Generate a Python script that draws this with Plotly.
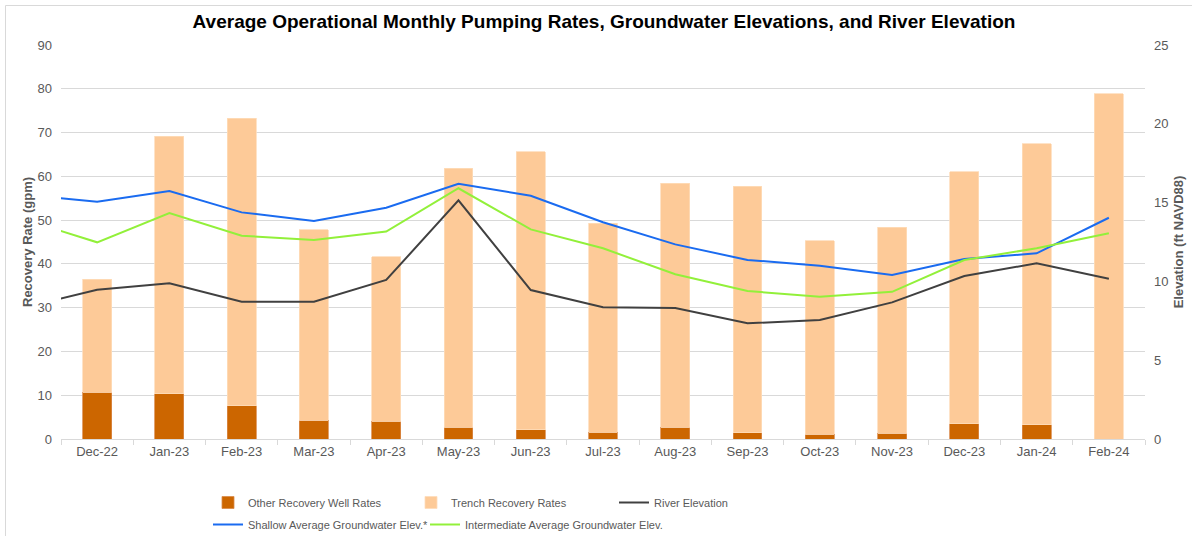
import plotly.graph_objects as go

months = ["Dec-22", "Jan-23", "Feb-23", "Mar-23", "Apr-23", "May-23", "Jun-23", "Jul-23",
          "Aug-23", "Sep-23", "Oct-23", "Nov-23", "Dec-23", "Jan-24", "Feb-24"]

# Recovery rates (gpm)
other_rates = [10.7, 10.3, 7.6, 4.3, 4.0, 2.7, 2.1, 1.6, 2.7, 1.4, 1.1, 1.3, 3.5, 3.3, 0.0]
total_rates = [36.5, 69.2, 73.3, 47.8, 41.6, 61.8, 65.6, 49.3, 58.4, 57.7, 45.3, 48.4, 61.1, 67.5, 78.9]
trench_rates = [round(t - o, 1) for t, o in zip(total_rates, other_rates)]

# Elevations (ft NAVD88); first value is the preceding month (Nov-22), partly off-chart
line_months = ["Nov-22"] + months
river_elev = [8.37, 9.47, 9.88, 8.71, 8.71, 10.09, 15.14, 9.45, 8.36, 8.31, 7.34, 7.55, 8.67, 10.34, 11.15, 10.17]
shallow_elev = [15.48, 15.06, 15.73, 14.38, 13.83, 14.67, 16.20, 15.43, 13.75, 12.35, 11.36, 11.00, 10.40, 11.42, 11.78, 14.04]
inter_elev = [13.92, 12.48, 14.34, 12.90, 12.63, 13.16, 15.91, 13.30, 12.10, 10.45, 9.39, 9.03, 9.34, 11.36, 12.10, 13.05]

left_ticks = list(range(0, 91, 10))
right_ticks = list(range(0, 26, 5))

bar_x = list(range(len(months)))
line_x = list(range(-1, len(months)))

FONT = "Liberation Sans, Arial, sans-serif"
GRAY = "#595959"

fig = go.Figure()
fig.add_trace(go.Bar(x=bar_x, y=other_rates, name="Other Recovery Well Rates", legend="legend",
                     marker=dict(color="#CC6600", line=dict(color="#D98A4A", width=0.8)), width=0.4))
fig.add_trace(go.Bar(x=bar_x, y=trench_rates, name="Trench Recovery Rates", legend="legend",
                     marker=dict(color="#FDCA98", line=dict(color="#FEDCBA", width=0.8)), width=0.4))
fig.add_trace(go.Scatter(x=line_x, y=river_elev, name="River Elevation", yaxis="y2", legend="legend",
                         mode="lines", line=dict(color="#404040", width=2)))
fig.add_trace(go.Scatter(x=line_x, y=shallow_elev, name="Shallow Average Groundwater Elev.*", yaxis="y2",
                         legend="legend2", mode="lines", line=dict(color="#1A6BF0", width=2)))
fig.add_trace(go.Scatter(x=line_x, y=inter_elev, name="Intermediate Average Groundwater Elev.", yaxis="y2",
                         legend="legend3", mode="lines", line=dict(color="#92F03A", width=2)))

W, H = 1192, 536
L, R, T, B = 61, 47, 45, 97
pw, ph = W - L - R, H - T - B

def px(x):
    return (x - L) / pw

def py(y):
    return (H - B - y) / ph

legend_base = dict(orientation="h", xanchor="left", yanchor="top", traceorder="normal",
                   font=dict(size=11, color=GRAY, family=FONT), itemwidth=30, tracegroupgap=0,
                   bgcolor="rgba(0,0,0,0)")

fig.update_layout(
    width=W, height=H,
    margin=dict(l=L, r=R, t=T, b=B, autoexpand=False),
    barmode="stack",
    plot_bgcolor="white", paper_bgcolor="white",
    font=dict(family=FONT, color=GRAY, size=13),
    title=dict(text="<b>Average Operational Monthly Pumping Rates, Groundwater Elevations, and River Elevation</b>",
               xref="container", x=604 / W, xanchor="center", y=1 - 21 / H, yanchor="middle",
               font=dict(family=FONT, size=19, color="#000000")),
    xaxis=dict(range=[-0.5, len(months) - 0.5], tickmode="array", tickvals=bar_x, ticktext=months,
               ticks="", showgrid=False, zeroline=False, showline=True, linecolor="#D9D9D9", linewidth=1,
               tickfont=dict(size=13, color=GRAY), automargin=False,
               minor=dict(tickmode="linear", tick0=-0.5, dtick=1, ticks="outside", ticklen=5,
                          tickcolor="#D9D9D9", tickwidth=1, showgrid=False)),
    yaxis=dict(range=[0, 90], tickmode="array", tickvals=left_ticks, showgrid=True, gridcolor="#D9D9D9",
               gridwidth=1, zeroline=False, showline=False, ticks="", automargin=False, ticklabelstandoff=8,
               title=dict(text="<b>Recovery Rate (gpm)</b>", font=dict(size=13, color=GRAY), standoff=1),
               tickfont=dict(size=13, color=GRAY)),
    yaxis2=dict(range=[0, 25], tickmode="array", tickvals=right_ticks, overlaying="y", side="right",
                showgrid=False, zeroline=False, showline=False, ticks="", automargin=False, ticklabelstandoff=8,
                title=dict(text="<b>Elevation (ft NAVD88)</b>", font=dict(size=13, color=GRAY), standoff=6),
                tickfont=dict(size=13, color=GRAY)),
    legend=dict(x=px(208), y=py(488), entrywidth=158, entrywidthmode="pixels", **legend_base),
    legend2=dict(x=px(208), y=py(510), **legend_base),
    legend3=dict(x=px(425), y=py(510), **legend_base),
    showlegend=True,
    shapes=[dict(type="rect", xref="paper", yref="paper", x0=px(5.5), x1=px(1200), y0=py(5.5), y1=py(545),
                 line=dict(color="#D9D9D9", width=1), fillcolor="rgba(0,0,0,0)", layer="below")],
)

fig.write_html("out.html", config={"displayModeBar": False},
               post_script="document.body.style.margin='0';document.body.style.overflow='hidden';")
